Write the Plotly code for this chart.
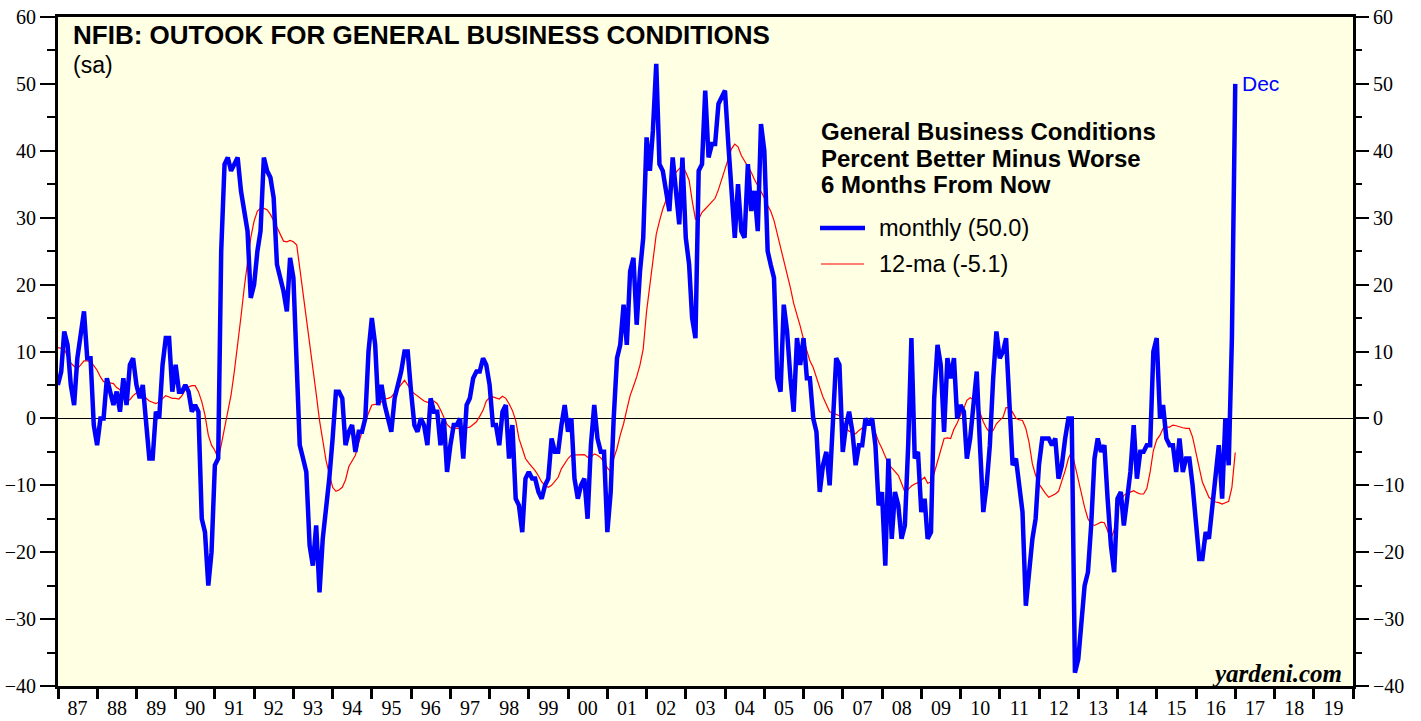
import pandas as pd
import plotly.graph_objects as go

# Month-end dates, Dec 1986 .. Dec 2016
months = pd.date_range("1986-12-31", periods=361, freq="ME").strftime("%Y-%m-%d").tolist()

monthly = [
    5, 7, 13, 11, 5, 2, 9, 12, 16, 9, 9, -1,
    -4, 0, 0, 6, 4, 2, 4, 1, 6, 2, 8, 9,
    5, 3, 5, 0, -6, -6, 1, 0, 8, 12, 12, 4,
    8, 4, 4, 5, 4, 1, 2, 1, -15, -17, -25, -20,
    -7, -6, 25, 38, 39, 37, 38, 39, 34, 31, 28, 18,
    20, 25, 28, 39, 37, 36, 33, 23, 21, 19, 16, 24,
    21, 8, -4, -6, -8, -19, -22, -16, -26, -18, -14, -9,
    -3, 4, 4, 3, -4, -2, -1, -5, -2, -2, 0, 10,
    15, 11, 2, 5, 2, 0, -2, 3, 5, 7, 10, 10,
    4, -1, -2, 0, -1, -4, 3, 1, 1, -4, 0, -8,
    -4, -1, -1, 0, -6, 2, 3, 6, 7, 7, 9, 8,
    5, -1, -1, -4, 1, 2, -6, -1, -12, -13, -17, -9,
    -8, -9, -9, -11, -12, -10, -9, -3, -5, -5, -1, 2,
    -2, 0, -9, -12, -10, -9, -15, -4, 2, -3, -5, -5,
    -17, -11, 0, 9, 11, 17, 11, 22, 24, 14, 22, 27,
    42, 37, 43, 53, 38, 37, 34, 31, 39, 34, 29, 39,
    27, 23, 15, 12, 37, 38, 49, 39, 41, 41, 47, 48,
    49, 41, 34, 27, 35, 28, 27, 38, 31, 34, 28, 44,
    40, 25, 23, 21, 6, 4, 17, 13, 6, 1, 12, 8,
    12, 6, 6, 0, -2, -11, -7, -5, -10, -1, 9, 8,
    -5, -1, 1, -2, -7, -4, -4, 0, -1, 0, -4, -13,
    -11, -22, -6, -18, -11, -13, -18, -16, -4, 12, -6, -5,
    -14, -12, -18, -17, 3, 11, 8, -2, 9, 6, 9, 0,
    2, 1, -6, -3, 2, 7, -4, -14, -10, -4, 6, 13,
    9, 10, 12, 2, -7, -6, -10, -14, -28, -23, -18, -15,
    -7, -3, -3, -3, -4, -3, -9, -7, -3, 0, 0, -38,
    -36, -30, -25, -23, -16, -6, -3, -5, -4, -12, -19, -23,
    -12, -11, -16, -12, -8, -1, -9, -5, -5, -4, -4, 10,
    12, 0, 2, -3, -4, -4, -8, -3, -8, -6, -6, -10,
    -15, -21, -21, -17, -18, -13, -8, -4, -12, 0, -7, 12,
    50,
]

ma12 = [
    10.6, 10.5, 10.4, 9.2, 8.3, 7.8, 7.4, 8.0, 8.6, 8.6, 8.5, 7.9,
    7.2, 6.2, 5.5, 5.4, 5.3, 5.2, 4.6, 4.3, 3.5, 2.6, 2.8, 3.4,
    3.8, 4.2, 4.0, 3.0, 2.6, 2.4, 2.2, 2.5, 3.0, 3.4, 3.2, 3.0,
    3.0, 2.9, 3.4, 4.3, 4.7, 4.9, 4.9, 4.0, 2.5, 0.5, -2.5, -4.0,
    -4.8, -6.0, -4.0, -1.4, 1.0, 3.5, 7.0, 10.9, 15.2, 19.5, 23.5, 27.0,
    29.5, 31.0, 31.4, 31.4, 31.2, 30.5, 29.6, 28.6, 27.5, 26.5, 26.4, 26.6,
    26.4, 25.9, 22.5, 18.8, 15.1, 11.5, 7.7, 3.7, -0.3, -3.3, -6.3, -8.3,
    -10.3, -10.9, -10.7, -10.3, -9.2, -7.2, -6.4, -5.5, -3.6, -1.9, -0.5, 0.8,
    2.0, 2.1, 2.1, 2.5, 2.9, 3.0, 3.2, 3.8, 4.4, 5.0, 5.7, 5.0,
    4.2, 3.7, 3.3, 2.9, 2.6, 2.4, 2.6, 2.6, 2.2, 1.3, 0.3, -0.9,
    -1.4, -1.5, -1.5, -1.5, -1.5, -1.4, -1.3, -0.9, -0.5, 0.3, 1.2, 2.6,
    3.1, 3.2, 3.0, 2.9, 3.3, 3.0, 2.2, 1.2, -0.3, -3.0, -4.5, -6.0,
    -6.7, -7.2, -7.8, -8.6, -9.5, -10.0, -10.3, -10.0, -9.3, -8.8, -7.5, -6.8,
    -6.0, -5.5, -5.5, -5.5, -5.4, -5.4, -5.8, -5.8, -5.3, -5.5, -5.9, -6.5,
    -7.4, -8.0, -6.0, -4.5, -2.5, -0.8, 1.3, 3.4, 4.8, 6.2, 8.0, 10.4,
    16.0, 20.0, 24.2, 27.5, 29.5, 31.3, 32.6, 34.0, 35.5, 36.8, 37.3, 37.8,
    36.8, 35.6, 32.6, 29.8, 29.8, 30.8, 31.3, 31.8, 32.4, 32.9, 34.2, 35.8,
    37.3, 39.0, 40.3, 41.0, 40.6, 39.3, 38.5, 37.8, 36.8, 35.7, 34.8, 33.9,
    33.0, 31.8, 31.0, 29.6, 27.6, 25.8, 24.0, 21.8, 19.5, 17.2, 15.6, 13.8,
    11.8, 10.2, 8.6, 7.6, 6.0, 4.6, 3.2, 2.0, 1.0, 0.8, 0.6, 0.4,
    -0.5, -1.5, -1.9, -2.1, -2.3, -1.8, -1.4, -1.0, -0.7, -0.8, -2.2, -3.5,
    -4.5, -5.8, -6.8, -7.4, -7.9, -8.5, -9.7, -11.0, -10.6, -10.1, -9.8, -9.6,
    -9.2, -8.8, -9.7, -9.5, -8.2, -6.5, -4.5, -3.0, -2.9, -3.0, -1.6, -0.7,
    0.5, 1.5, 2.7, 3.1, 2.8, 2.2, 0.9, -0.5, -1.5, -2.1, -1.8, -0.8,
    -0.3, 0.2, 1.6, 1.6, 0.9, 0.0, -0.2, -0.3, -1.5, -3.6, -6.8, -8.5,
    -9.8, -10.6, -11.2, -11.8, -11.6, -11.3, -10.9, -9.5, -7.8, -6.0, -5.0, -7.0,
    -9.3, -11.3, -13.3, -15.0, -15.8, -16.0, -15.8, -15.5, -15.6, -16.8, -18.0, -16.7,
    -13.5, -12.3, -11.5, -11.2, -11.0, -10.8, -11.1, -11.3, -11.3, -10.5, -8.0, -4.8,
    -3.2, -2.5, -1.5, -1.3, -1.3, -1.0, -1.1, -1.3, -1.4, -1.5, -1.5, -2.8,
    -5.3, -7.4, -9.5, -10.8, -11.8, -12.2, -12.5, -12.6, -12.8, -12.6, -12.4, -10.3,
    -5.1,
]

y_ticks = [-40, -30, -20, -10, 0, 10, 20, 30, 40, 50, 60]

title_text = "NFIB: OUTOOK FOR GENERAL BUSINESS CONDITIONS"
subtitle_text = "(sa)"
legend_title = ["General Business Conditions", "Percent Better Minus Worse", "6 Months From Now"]
name_monthly = "monthly (50.0)"
name_ma = "12-ma (-5.1)"

BLUE = "#0000FF"
RED = "#FF0000"
SANS = "Liberation Sans"
SERIF = "Liberation Serif"

fig = go.Figure()
fig.add_trace(go.Scatter(x=months, y=ma12, mode="lines", name=name_ma,
                         line=dict(color=RED, width=1.2), showlegend=False))
fig.add_trace(go.Scatter(x=months, y=monthly, mode="lines", name=name_monthly,
                         line=dict(color=BLUE, width=4.5), showlegend=False))
# right axis carrier (invisible)
fig.add_trace(go.Scatter(x=[months[0]], y=[0], yaxis="y2", mode="markers",
                         marker=dict(opacity=0), showlegend=False, hoverinfo="skip"))

axis_common = dict(
    range=[-40, 60], tickvals=y_ticks, ticks="outside", ticklen=15, tickwidth=1.5,
    tickcolor="black", tickfont=dict(family=SERIF, size=20, color="black"),
    showgrid=False, automargin=False,
    minor=dict(dtick=5, ticks="outside", ticklen=8, tickwidth=1.5, tickcolor="black", showgrid=False),
)

fig.update_layout(
    width=1421, height=721,
    margin=dict(l=58, r=68, t=17, b=35),
    paper_bgcolor="white",
    plot_bgcolor="#FFFFE3",
    showlegend=False,
    xaxis=dict(
        type="date", range=["1987-01-01", "2020-01-01"],
        dtick="M12", tick0="1987-01-01", tickformat="%y", ticklabelmode="period",
        ticks="outside", ticklen=10, tickwidth=2.5, tickcolor="black",
        tickfont=dict(family=SERIF, size=20, color="black"),
        ticklabelstandoff=-8,
        showline=True, linewidth=3, linecolor="black", mirror=True,
        showgrid=False, zeroline=False, automargin=False,
    ),
    yaxis=dict(
        **axis_common,
        showline=True, linewidth=3, linecolor="black", mirror=True,
        zeroline=True, zerolinecolor="black", zerolinewidth=1.2,
    ),
    yaxis2=dict(
        **axis_common,
        overlaying="y", side="right", showline=False, zeroline=False,
    ),
)

def px_x(px):
    return (px - 58) / 1295.0

def px_y(py):
    return (686 - py) / 669.0

ann = []
ann.append(dict(x=px_x(71), y=px_y(35), xref="paper", yref="paper", text=title_text,
                showarrow=False, xanchor="left", yanchor="middle",
                font=dict(family=SANS, size=26, color="black", weight="bold")))
ann.append(dict(x=px_x(71), y=px_y(65), xref="paper", yref="paper", text=subtitle_text,
                showarrow=False, xanchor="left", yanchor="middle",
                font=dict(family=SANS, size=23, color="black")))
for i, line in enumerate(legend_title):
    ann.append(dict(x=px_x(819), y=px_y(131 + 27 * i), xref="paper", yref="paper", text=line,
                    showarrow=False, xanchor="left", yanchor="middle",
                    font=dict(family=SANS, size=24, color="black", weight="bold")))
ann.append(dict(x=px_x(877), y=px_y(228), xref="paper", yref="paper", text=name_monthly,
                showarrow=False, xanchor="left", yanchor="middle",
                font=dict(family=SANS, size=23.5, color="black")))
ann.append(dict(x=px_x(877), y=px_y(264), xref="paper", yref="paper", text=name_ma,
                showarrow=False, xanchor="left", yanchor="middle",
                font=dict(family=SANS, size=23.5, color="black")))
ann.append(dict(x=months[-1], y=monthly[-1], xref="x", yref="y", text="Dec",
                showarrow=False, xanchor="left", yanchor="middle", xshift=5,
                font=dict(family=SANS, size=21, color=BLUE)))
ann.append(dict(x=px_x(1344), y=px_y(673), xref="paper", yref="paper", text="<b><i>yardeni.com</i></b>",
                showarrow=False, xanchor="right", yanchor="middle",
                font=dict(family=SERIF, size=25, color="black")))
fig.update_layout(annotations=ann)

fig.add_shape(type="line", xref="paper", yref="paper",
              x0=px_x(820), x1=px_x(865), y0=px_y(228), y1=px_y(228),
              line=dict(color=BLUE, width=4.5))
fig.add_shape(type="line", xref="paper", yref="paper",
              x0=px_x(821), x1=px_x(864), y0=px_y(264), y1=px_y(264),
              line=dict(color=RED, width=1.2))

# remove the browser's default 8px body margin so the figure fills the window
fig.write_html("out.html", config={"displayModeBar": False},
               post_script="document.body.style.margin='0px';")
